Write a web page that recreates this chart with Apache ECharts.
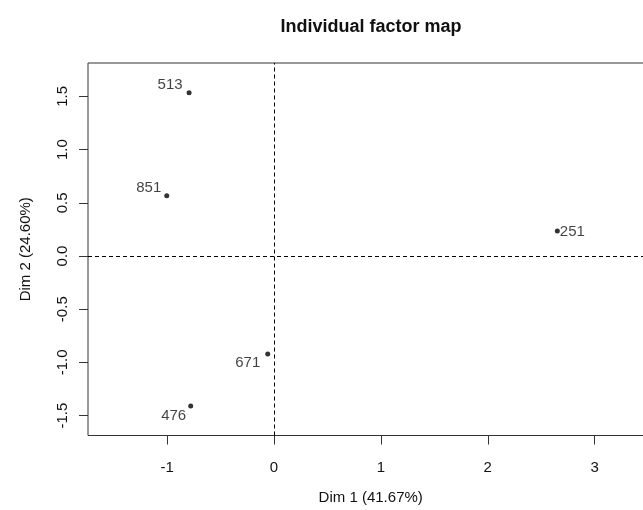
<!DOCTYPE html>
<html>
<head>
<meta charset="utf-8">
<script src="https://cdn.jsdelivr.net/npm/echarts@6/dist/echarts.min.js"></script>
<style>
html,body{margin:0;padding:0;background:#fff;}
#chart{width:643px;height:510px;}
</style>
</head>
<body>
<div id="chart"></div>
<script>
// Data
const names = ['513', '851', '671', '476', '251'];
const dim1 = [-0.795, -1.004, -0.059, -0.780, 2.651];
const dim2 = [1.535, 0.567, -0.921, -1.410, 0.235];
const xTicks = [-1, 0, 1, 2, 3];
const yTicks = [-1.5, -1.0, -0.5, 0.0, 0.5, 1.0, 1.5];
const refLines = [0];
const titleText = 'Individual factor map';
const xName = 'Dim 1 (41.67%)';
const yName = 'Dim 2 (24.60%)';

// Label placement (styling)
const labelPlace = {
  '513': {position: 'left', distance: 4, offset: [0, -8]},
  '851': {position: 'left', distance: 3, offset: [0, -8]},
  '671': {position: 'left', distance: 5, offset: [0, 9]},
  '476': {position: 'left', distance: 2, offset: [0, 10]},
  '251': {position: 'right', distance: 0, offset: [0, 1]}
};

const FONT = '"Liberation Sans", Arial, sans-serif';
const TXT = '#111';
const chart = echarts.init(document.getElementById('chart'), null, {renderer: 'canvas'});

const points = names.map((n, i) => ({
  name: n,
  value: [dim1[i], dim2[i]],
  label: Object.assign({show: true, formatter: n}, labelPlace[n])
}));

const option = {
  animation: false,
  backgroundColor: '#fff',
  title: {
    text: titleText,
    left: 366,
    textAlign: 'center',
    top: 13,
    textStyle: {fontFamily: FONT, fontSize: 18, fontWeight: 'bold', color: '#111'}
  },
  grid: {
    left: 88, top: 63, width: 565.4, height: 372.5,
    outerBoundsMode: 'none',
    containLabel: false,
    show: true, borderColor: '#333', borderWidth: 1, backgroundColor: 'transparent'
  },
  xAxis: {
    type: 'value',
    min: -1.741, max: 3.55,
    name: xName,
    nameLocation: 'middle',
    nameGap: 55,
    nameTextStyle: {fontFamily: FONT, fontSize: 15, color: TXT},
    splitLine: {show: false},
    axisLine: {show: false, onZero: false},
    axisTick: {show: true, inside: false, length: 9, customValues: xTicks, lineStyle: {color: '#333'}},
    axisLabel: {show: true, customValues: xTicks, margin: 25, fontFamily: FONT, fontSize: 15, color: TXT,
      formatter: v => String(v)}
  },
  yAxis: {
    type: 'value',
    min: -1.687, max: 1.814,
    name: yName,
    nameLocation: 'middle',
    nameGap: 55,
    nameTextStyle: {fontFamily: FONT, fontSize: 15, color: TXT},
    splitLine: {show: false},
    axisLine: {show: false, onZero: false},
    axisTick: {show: true, inside: false, length: 9, customValues: yTicks, lineStyle: {color: '#333'}},
    axisLabel: {show: true, customValues: yTicks, margin: 18, rotate: 90, fontFamily: FONT, fontSize: 15, color: TXT,
      formatter: v => v.toFixed(1)}
  },
  series: [{
    type: 'scatter',
    symbol: 'circle',
    symbolSize: 5,
    itemStyle: {color: '#000'},
    label: {fontFamily: FONT, fontSize: 15, color: TXT},
    emphasis: {disabled: true},
    data: points,
    markLine: {
      silent: true,
      symbol: 'none',
      label: {show: false},
      lineStyle: {color: '#000', type: [4, 3], width: 1},
      data: refLines.map(v => ({xAxis: v})).concat(refLines.map(v => ({yAxis: v})))
    }
  }]
};
chart.setOption(option);
</script>
</body>
</html>
